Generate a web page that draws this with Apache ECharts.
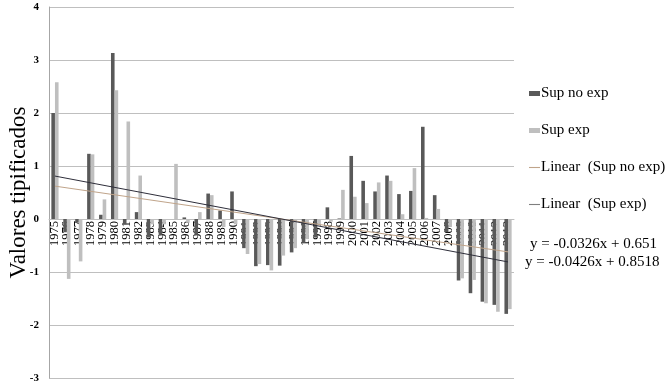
<!DOCTYPE html>
<html>
<head>
<meta charset="utf-8">
<script src="https://cdn.jsdelivr.net/npm/echarts@6/dist/echarts.min.js"></script>
<style>html,body{margin:0;padding:0;background:#fff}#c{width:667px;height:385px}</style>
</head>
<body>
<div id="c"></div>
<script>
var years = ['1975','1976','1977','1978','1979','1980','1981','1982','1983','1984','1985','1986','1987','1988','1989','1990','1991','1992','1993','1994','1995','1996','1997','1998','1999','2000','2001','2002','2003','2004','2005','2006','2007','2008','2009','2010','2011','2012','2013'];
var supNoExp = [2.0,-0.25,-0.07,1.23,0.08,3.13,-0.1,0.13,-0.35,-0.3,0.0,0.03,-0.3,0.48,0.16,0.52,-0.55,-0.89,-0.87,-0.88,-0.63,-0.45,-0.35,0.22,0.01,1.19,0.72,0.52,0.82,0.47,0.53,1.74,0.45,-0.25,-1.16,-1.4,-1.56,-1.62,-1.79];
var supExp = [2.58,-1.13,-0.8,1.22,0.37,2.43,1.84,0.82,-0.1,-0.1,1.04,-0.07,0.13,0.45,-0.15,-0.1,-0.66,-0.85,-0.97,-0.69,-0.55,-0.38,-0.12,-0.05,0.55,0.42,0.3,0.69,0.72,0.09,0.96,0.02,0.19,-0.15,-1.12,-1.15,-1.59,-1.75,-1.7];
var trendNoExpEnds = [0.62, -0.62];
var trendExpEnds = [0.81, -0.81];
var yTicks = [-3,-2,-1,0,1,2,3,4];
var eqNoExp = 'y = -0.0326x + 0.651';
var eqExp = 'y = -0.0426x + 0.8518';

function endsToSeries(ends){
  var d = years.map(function(){return null;});
  d[0] = ends[0]; d[d.length-1] = ends[1];
  return d;
}
var serif = 'Liberation Serif';
var lineIcon = 'path://M0,0h20v2h-20z';
var gridTop = 7, gridBottom = 7, H = 385;
var plotH = H - gridTop - gridBottom;
var zeroOffset = -plotH * (0 - (-3)) / (4 - (-3));
var chart = echarts.init(document.getElementById('c'));
chart.setOption({
  animation:false,
  backgroundColor:'#fff',
  textStyle:{fontFamily:serif},
  grid:{left:49,right:153,top:gridTop,bottom:gridBottom,containLabel:false,outerBoundsMode:'none'},
  legend:{
    orient:'vertical', left:524, top:81, itemGap:22, itemWidth:11, itemHeight:5,
    textStyle:{fontFamily:serif,fontSize:15,color:'#000',padding:[0,0,0,-4]},
    data:[
      {name:'Sup no exp',icon:'rect'},
      {name:'Sup exp',icon:'rect'},
      {name:'Linear  (Sup no exp)',icon:lineIcon},
      {name:'Linear  (Sup exp)',icon:lineIcon}
    ]
  },
  xAxis:{
    type:'category', data:years, offset:zeroOffset,
    axisLine:{onZero:false,lineStyle:{color:'#bfbfbf'}},
    axisTick:{show:false},
    axisLabel:{rotate:90,interval:0,fontFamily:serif,fontSize:12.5,color:'#000',margin:2},
    splitLine:{show:false}
  },
  yAxis:{
    type:'value', min:-3, max:4, interval:1,
    name:'Valores tipificados', nameLocation:'middle', nameGap:19, nameRotate:90, nameMoveOverlap:false,
    nameTextStyle:{fontFamily:serif,fontSize:23,color:'#000'},
    axisLine:{show:true,lineStyle:{color:'#a6a6a6'}},
    axisTick:{show:false},
    axisLabel:{fontFamily:serif,fontSize:11,fontWeight:'bold',color:'#000',margin:10,
      formatter:function(v){return yTicks.indexOf(v)>=0?String(v):'';}},
    splitLine:{lineStyle:{color:'#bfbfbf',width:1}}
  },
  series:[
    {name:'Sup no exp',type:'bar',data:supNoExp,barWidth:3.6,barGap:'0%',itemStyle:{color:'#595959'}},
    {name:'Sup exp',type:'bar',data:supExp,barWidth:3.6,barGap:'0%',itemStyle:{color:'#bfbfbf'}},
    {name:'Linear  (Sup no exp)',type:'line',data:endsToSeries(trendNoExpEnds),connectNulls:true,symbol:'none',
      lineStyle:{color:'#c0a48a',width:1},itemStyle:{color:'#c0a48a'},z:5},
    {name:'Linear  (Sup exp)',type:'line',data:endsToSeries(trendExpEnds),connectNulls:true,symbol:'none',
      lineStyle:{color:'#2e2e3a',width:1},itemStyle:{color:'#7f7f7f'},z:6}
  ],
  graphic:[
    {type:'text',left:530,top:237,style:{text:eqNoExp,font:'15px "Liberation Serif"',fill:'#000'}},
    {type:'text',left:525,top:255,style:{text:eqExp,font:'15px "Liberation Serif"',fill:'#000'}}
  ]
});
</script>
</body>
</html>
